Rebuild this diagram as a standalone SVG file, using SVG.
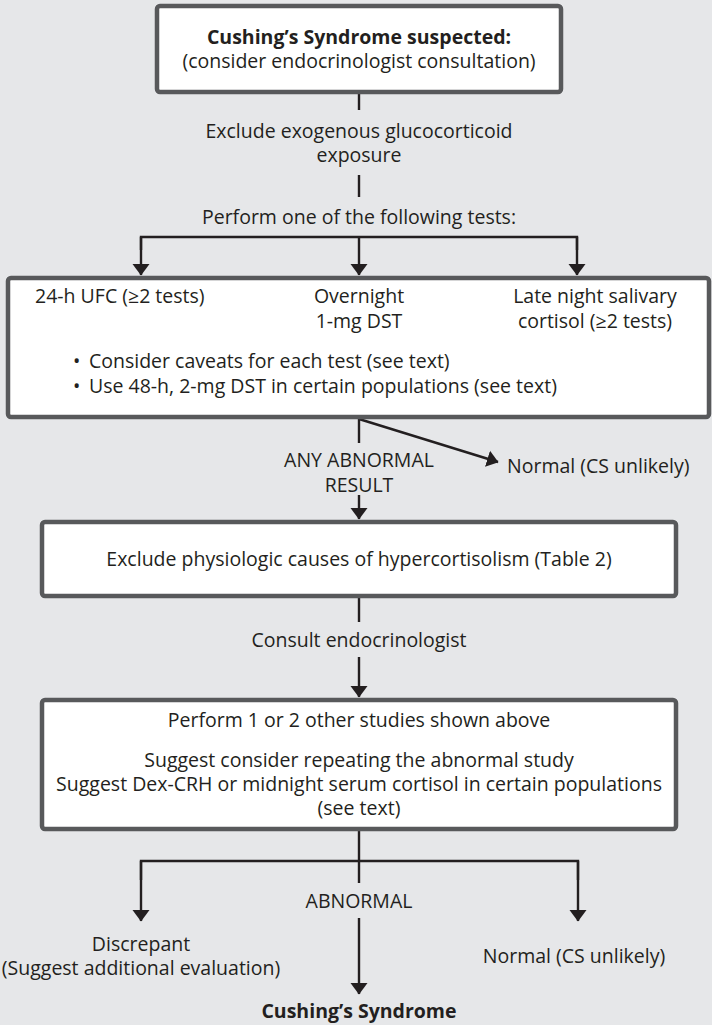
<svg xmlns="http://www.w3.org/2000/svg" width="712" height="1025" viewBox="0 0 712 1025">
<defs>
<style>
.bg{fill:#e6e7e9}
.box{fill:#ffffff;stroke:#58595b;stroke-width:4.5}
.ln{stroke:#231f20;stroke-width:2.4;fill:none}
.t{font-family:"Open Sans","Liberation Sans",sans-serif;font-size:19.5px;fill:#231f20}
.c{text-anchor:middle}
.b{font-weight:bold}
</style>
<marker id="ah" markerWidth="12" markerHeight="18" refX="11" refY="9" orient="auto" markerUnits="userSpaceOnUse">
<path d="M0,0.5 L11.5,9 L0,17.5 Z" fill="#231f20"/>
</marker>
</defs>
<rect class="bg" x="0" y="0" width="712" height="1025"/>
<g id="connectors">
<line class="ln" x1="359" y1="92" x2="359" y2="110"/>
<line class="ln" x1="359" y1="175" x2="359" y2="197"/>
<polyline class="ln" points="141,250 141,237 577,237 577,250"/>
<line class="ln" x1="141" y1="237" x2="141" y2="275" marker-end="url(#ah)"/>
<line class="ln" x1="359" y1="237" x2="359" y2="275" marker-end="url(#ah)"/>
<line class="ln" x1="577" y1="237" x2="577" y2="275" marker-end="url(#ah)"/>
<line class="ln" x1="359" y1="417" x2="359" y2="443"/>
<line class="ln" x1="359" y1="419" x2="498" y2="462" marker-end="url(#ah)"/>
<line class="ln" x1="359" y1="495" x2="359" y2="519" marker-end="url(#ah)"/>
<line class="ln" x1="359" y1="596" x2="359" y2="622"/>
<line class="ln" x1="359" y1="657" x2="359" y2="697" marker-end="url(#ah)"/>
<line class="ln" x1="359" y1="829" x2="359" y2="883"/>
<polyline class="ln" points="141,880 141,861 578,861 578,880"/>
<line class="ln" x1="141" y1="861" x2="141" y2="921" marker-end="url(#ah)"/>
<line class="ln" x1="578" y1="861" x2="578" y2="921" marker-end="url(#ah)"/>
<line class="ln" x1="359" y1="918" x2="359" y2="994" marker-end="url(#ah)"/>
</g>
<g id="n-suspected">
<rect class="box" x="157" y="6" width="404" height="86" rx="3"/>
<text class="t c b" x="359" y="44">Cushing’s Syndrome suspected:</text>
<text class="t c" x="359" y="68">(consider endocrinologist consultation)</text>
</g>
<g id="l-exclude">
<text class="t c" x="359" y="138">Exclude exogenous glucocorticoid</text>
<text class="t c" x="359" y="162">exposure</text>
</g>
<g id="l-perform">
<text class="t c" x="359" y="224">Perform one of the following tests:</text>
</g>
<g id="n-tests">
<rect class="box" x="8" y="278" width="701" height="139" rx="3"/>
<text class="t" x="35" y="303">24-h UFC (≥2 tests)</text>
<text class="t c" x="359" y="303">Overnight</text>
<text class="t c" x="359" y="328">1-mg DST</text>
<text class="t c" x="595" y="303">Late night salivary</text>
<text class="t c" x="595" y="328">cortisol (≥2 tests)</text>
<text class="t" x="73" y="368">•</text>
<text class="t" x="89" y="368">Consider caveats for each test (see text)</text>
<text class="t" x="73" y="393">•</text>
<text class="t" x="89" y="393">Use 48-h, 2-mg DST in certain populations (see text)</text>
</g>
<g id="l-any">
<text class="t c" x="359" y="467">ANY ABNORMAL</text>
<text class="t c" x="359" y="492">RESULT</text>
</g>
<g id="n-normal1">
<text class="t" x="507" y="473">Normal (CS unlikely)</text>
</g>
<g id="n-physio">
<rect class="box" x="42" y="522" width="634" height="74" rx="3"/>
<text class="t c" x="359" y="566">Exclude physiologic causes of hypercortisolism (Table 2)</text>
</g>
<g id="l-consult">
<text class="t c" x="359" y="647">Consult endocrinologist</text>
</g>
<g id="n-other">
<rect class="box" x="42" y="700" width="634" height="129" rx="3"/>
<text class="t c" x="359" y="727">Perform 1 or 2 other studies shown above</text>
<text class="t c" x="359" y="767">Suggest consider repeating the abnormal study</text>
<text class="t c" x="359" y="791">Suggest Dex-CRH or midnight serum cortisol in certain populations</text>
<text class="t c" x="359" y="815">(see text)</text>
</g>
<g id="l-abnormal">
<text class="t c" x="359" y="908">ABNORMAL</text>
</g>
<g id="n-discrepant">
<text class="t c" x="141" y="951">Discrepant</text>
<text class="t c" x="141" y="975">(Suggest additional evaluation)</text>
</g>
<g id="n-normal2">
<text class="t c" x="574" y="963">Normal (CS unlikely)</text>
</g>
<g id="n-cushing">
<text class="t c b" x="359" y="1018">Cushing’s Syndrome</text>
</g>
</svg>
